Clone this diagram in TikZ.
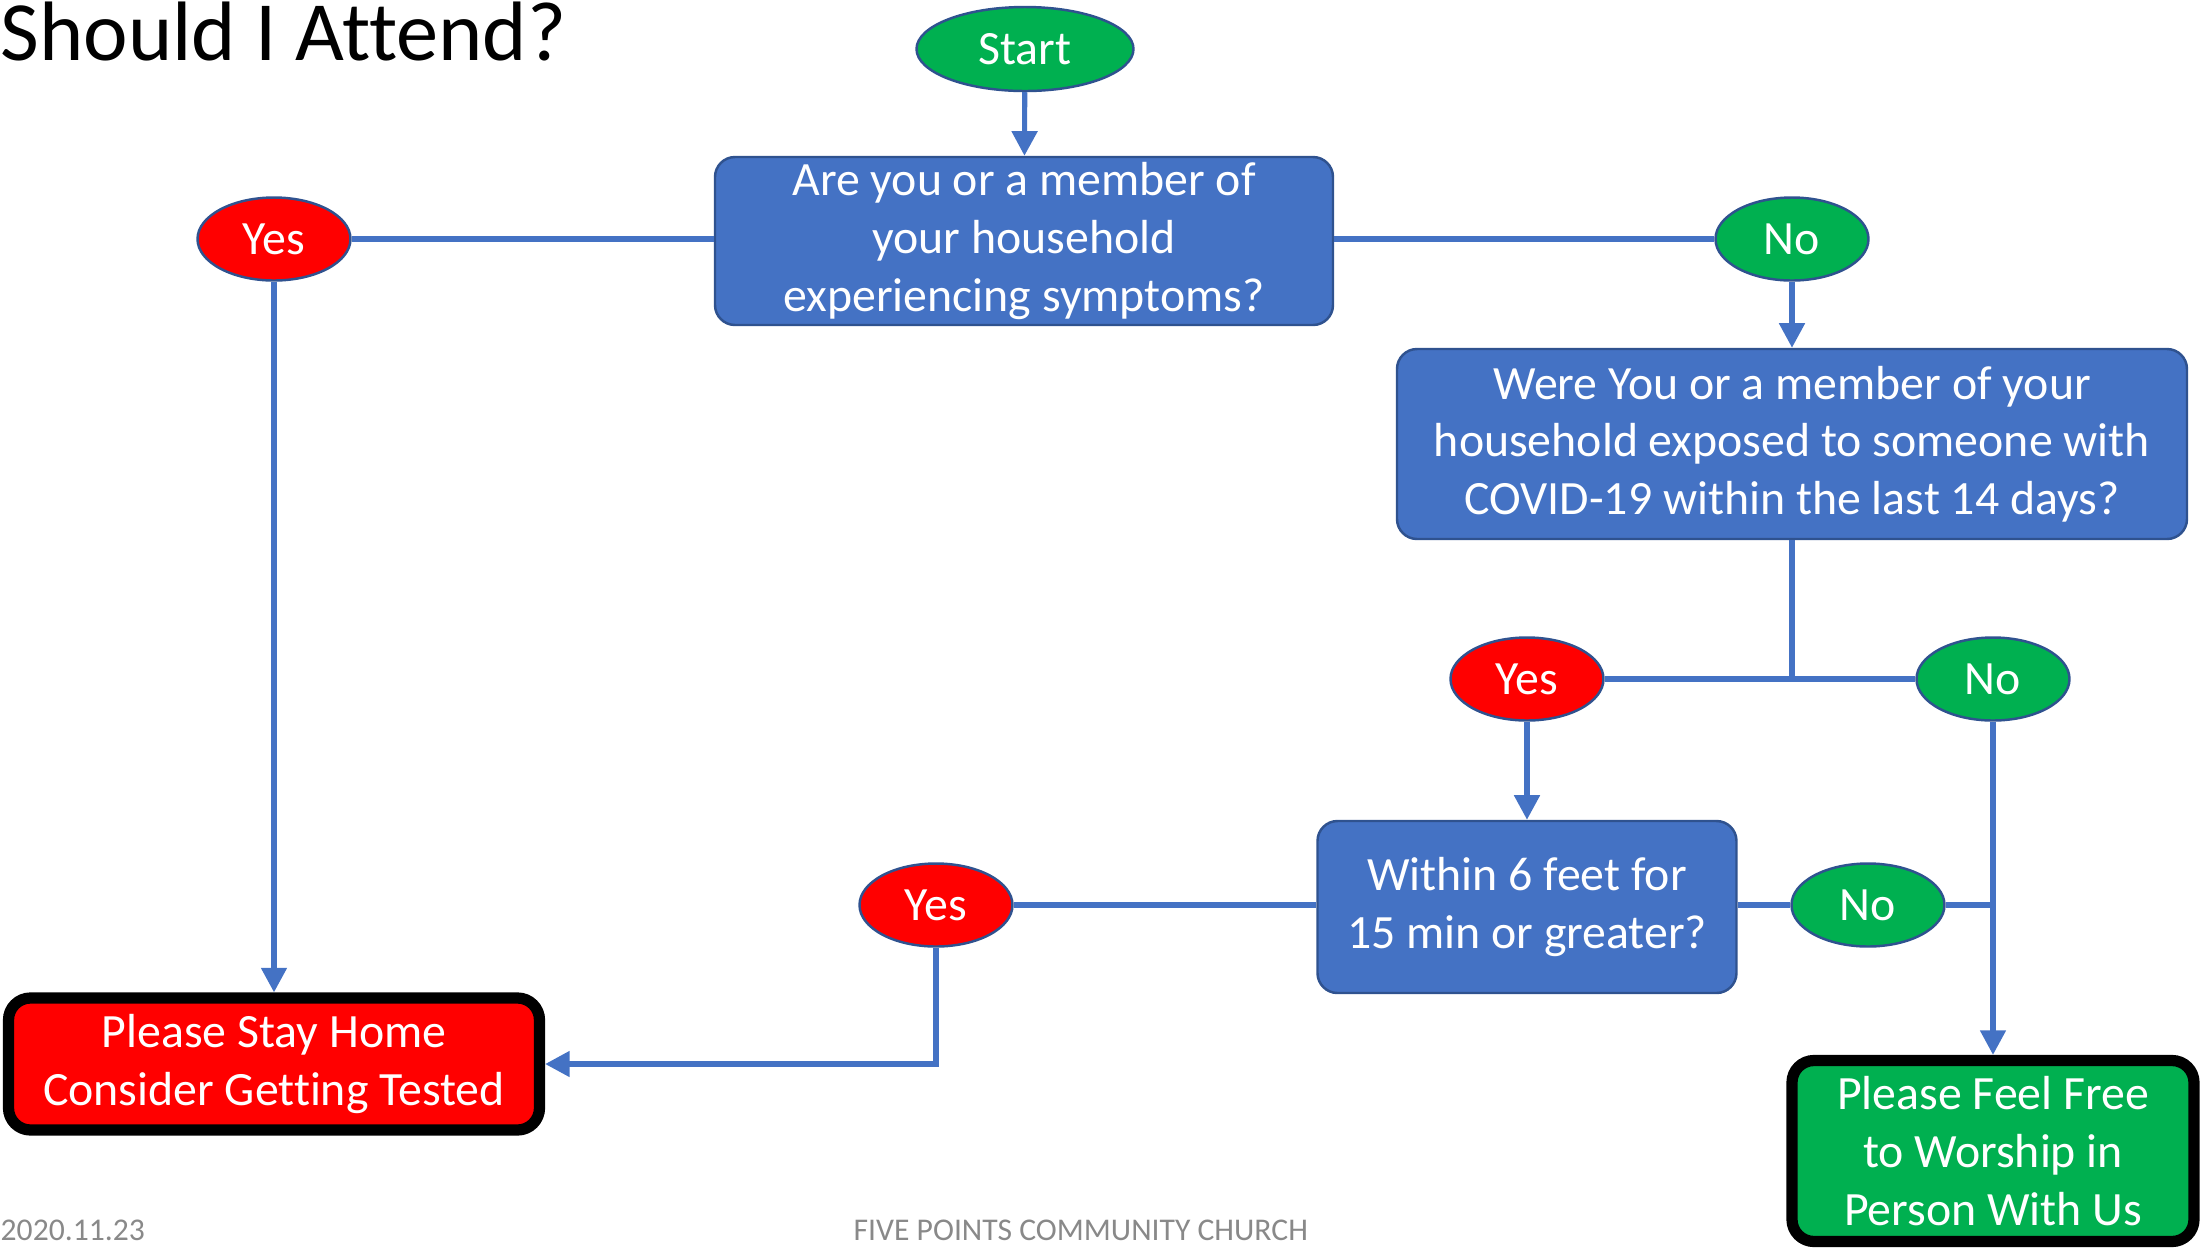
\documentclass[tikz,border=0pt]{standalone}
\usepackage{fontspec}
\setmainfont{Carlito}[Ligatures=NoCommon]
\usepackage{tikz}
\usetikzlibrary{arrows.meta,shapes.geometric}
\definecolor{qblue}{HTML}{4472C4}
\definecolor{qedge}{HTML}{2F528F}
\definecolor{gogreen}{HTML}{00B050}
\definecolor{stopred}{HTML}{FF0000}
\definecolor{footgray}{HTML}{898989}
\tikzset{
	qbox/.style={rectangle, rounded corners=0.2cm, draw=qedge, line width=0.7pt, fill=qblue, text=white, align=center, inner sep=0pt, font=\fontsize{13.6}{16.4}\selectfont},
	yesoval/.style={ellipse, draw=qedge, line width=0.7pt, fill=stopred, text=white, inner sep=0pt, minimum width=1.53cm, minimum height=0.83cm, font=\fontsize{13.6}{16.4}\selectfont},
	nooval/.style={yesoval, fill=gogreen},
	endbox/.style={rectangle, rounded corners=0.22cm, draw=black, line width=3.2pt, text=white, align=center, inner sep=0pt, font=\fontsize{13.6}{16.4}\selectfont},
	link/.style={draw=qblue, line width=1.45pt},
	arr/.style={link, -{Triangle[width=7.1pt,length=7pt]}},
}

\begin{document}
\begin{tikzpicture}
		%%%%% START %%%%%
		\useasboundingbox (0, 0) rectangle (22.04, -12.49);
		
		\node[anchor=base west, inner sep=0pt, font=\fontsize{24}{28}\selectfont] (title) at (0, -0.6) {Should I Attend?};
		
		\node[nooval, minimum width=2.17cm, minimum height=0.84cm] (start) at (10.25, -0.49) {Start};
		\node[qbox, minimum width=6.18cm, minimum height=1.68cm] (symptoms) at (10.24, -2.41) {Are you or a member of\\your household\\experiencing symptoms?};
		
		\node[yesoval] (yes1) at (2.74, -2.39) {Yes};
		\node[nooval] (no1) at (17.92, -2.39) {No};
		
		\node[qbox, minimum width=7.90cm, minimum height=1.90cm] (exposed) at (17.92, -4.44) {Were You or a member of your\\household exposed to someone with\\COVID-19 within the last 14 days?};
		
		\node[yesoval] (yes2) at (15.27, -6.79) {Yes};
		\node[nooval] (no2) at (19.93, -6.79) {No};
		
		\node[qbox, minimum width=4.19cm, minimum height=1.72cm] (close) at (15.27, -9.07) {Within 6 feet for\\15 min or greater?};
		
		\node[yesoval] (yes3) at (9.36, -9.05) {Yes};
		\node[nooval] (no3) at (18.68, -9.05) {No};
		
		\node[endbox, fill=stopred, minimum width=5.31cm, minimum height=1.32cm] (stayhome) at (2.74, -10.64) {Please Stay Home\\Consider Getting Tested};
		\node[endbox, fill=gogreen, minimum width=4.02cm, minimum height=1.81cm] (worship) at (19.93, -11.51) {Please Feel Free\\to Worship in\\Person With Us};
		
		% connectors
		\draw[arr] (start) -- (symptoms);
		\draw[link] (symptoms.west |- yes1) -- (yes1);
		\draw[link] (symptoms.east |- no1) -- (no1);
		\draw[arr] (yes1) -- (stayhome);
		\draw[arr] (no1) -- (exposed);
		
		\draw[link] (exposed.south) -- (exposed.south |- yes2.east);
		\draw[link] (yes2) -- (no2);
		\draw[arr] (yes2) -- (close);
		\draw[arr] (no2) -- (worship);
		
		\draw[link] (close.west |- yes3) -- (yes3);
		\draw[link] (close.east |- no3) -- (no3);
		\coordinate (merge) at (no2.south |- no3.east);
		\draw[link] (no3.east) -- (merge);
		\draw[arr] (yes3.south) |- (stayhome.east);
		
		% footer
		\node[anchor=base west, inner sep=0pt, text=footgray, font=\fontsize{9}{11}\selectfont] (date) at (0, -12.40) {2020.11.23};
		\node[anchor=base west, inner sep=0pt, text=footgray, font=\fontsize{9}{11}\selectfont] (church) at (8.53, -12.40) {FIVE POINTS COMMUNITY CHURCH};
		
		%%%%% END %%%%%
	\end{tikzpicture}
\end{document}
